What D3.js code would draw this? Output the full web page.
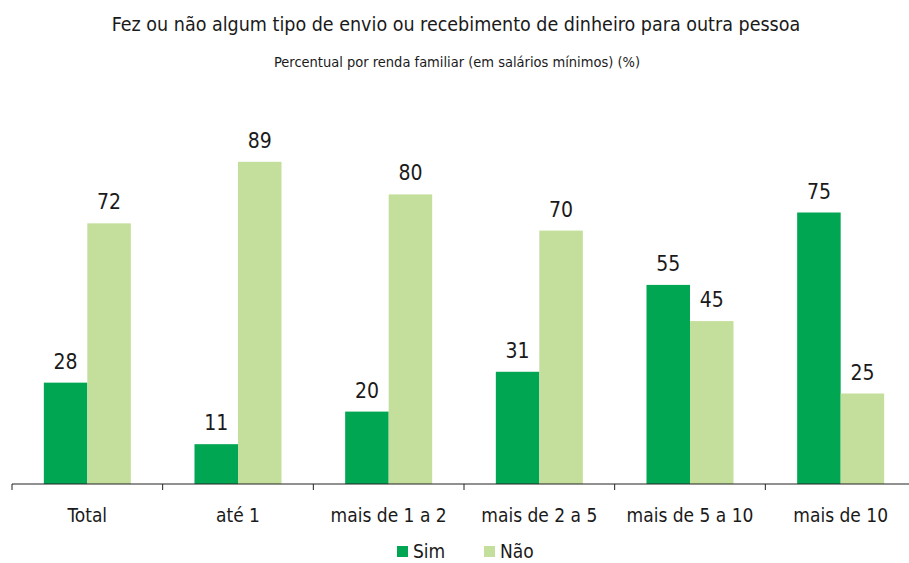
<!DOCTYPE html>
<html>
<head>
<meta charset="utf-8">
<script src="https://cdn.jsdelivr.net/npm/d3@7"></script>
<style>
  body { margin: 0; background: #fff; }
  svg text { font-family: "Liberation Sans Narrow", "DejaVu Sans Condensed", "Liberation Sans", sans-serif; fill: #1a1a1a; }
</style>
</head>
<body>
<div id="chart"></div>
<script>
// Chart data
const categories = ['Total', 'até 1', 'mais de 1 a 2', 'mais de 2 a 5', 'mais de 5 a 10', 'mais de 10'];
const seriesNames = ['Sim', 'Não'];
const simValues = [28, 11, 20, 31, 55, 75];
const naoValues = [72, 89, 80, 70, 45, 25];
const colours = ['#00a651', '#c4df9b'];

const width = 909, height = 563;
const baseline = 484;

const svg = d3.select('#chart')
    .append('svg')
    .attr('width', width)
    .attr('height', height);

// Scales
const x = d3.scaleBand()
    .domain(categories)
    .range([12, 916]);

const inner = d3.scaleBand()
    .domain(seriesNames)
    .range([0, 87])
    .padding(0);

const y = d3.scaleLinear()
    .domain([0, 100])
    .range([baseline, 122]);

const rows = categories.map((c, i) => ({ category: c, values: [simValues[i], naoValues[i]] }));

// Bars
const groups = svg.selectAll('g.group')
    .data(rows)
    .enter()
    .append('g')
    .attr('class', 'group')
    .attr('transform', d => `translate(${x(d.category) + (x.bandwidth() - 87) / 2},0)`);

groups.selectAll('rect')
    .data(d => d.values.map((v, j) => ({ name: seriesNames[j], value: v, j })))
    .enter()
    .append('rect')
    .attr('x', d => inner(d.name))
    .attr('y', d => y(d.value))
    .attr('width', inner.bandwidth())
    .attr('height', d => baseline - y(d.value))
    .attr('fill', d => colours[d.j]);

// Value labels
groups.selectAll('text')
    .data(d => d.values.map((v, j) => ({ name: seriesNames[j], value: v })))
    .enter()
    .append('text')
    .attr('x', d => inner(d.name) + inner.bandwidth() / 2)
    .attr('y', d => y(d.value) - 14)
    .attr('text-anchor', 'middle')
    .style('font-size', '21px')
    .text(d => d.value);

// X axis with ticks between groups
const axis = svg.append('g');
axis.append('line')
    .attr('x1', 12).attr('x2', 916)
    .attr('y1', baseline).attr('y2', baseline)
    .attr('stroke', '#222').attr('stroke-width', 1);

const tickPos = categories.map(c => x(c));
axis.selectAll('line.tick')
    .data(tickPos)
    .enter()
    .append('line')
    .attr('class', 'tick')
    .attr('x1', d => d).attr('x2', d => d)
    .attr('y1', baseline).attr('y2', baseline + 6)
    .attr('stroke', '#222');

axis.selectAll('text')
    .data(categories)
    .enter()
    .append('text')
    .attr('x', d => x(d) + x.bandwidth() / 2)
    .attr('y', 522)
    .attr('text-anchor', 'middle')
    .style('font-size', '19px')
    .text(d => d);

// Titles
svg.append('text')
    .attr('x', 456).attr('y', 31)
    .attr('text-anchor', 'middle')
    .style('font-size', '19.5px')
    .text('Fez ou não algum tipo de envio ou recebimento de dinheiro para outra pessoa');

svg.append('text')
    .attr('x', 457).attr('y', 67)
    .attr('text-anchor', 'middle')
    .style('font-size', '14.5px')
    .text('Percentual por renda familiar (em salários mínimos) (%)');

// Legend
const legend = svg.append('g');
const legendX = [397, 484];
seriesNames.forEach((name, i) => {
    legend.append('rect')
        .attr('x', legendX[i]).attr('y', 546)
        .attr('width', 11).attr('height', 11)
        .attr('fill', colours[i]);
    legend.append('text')
        .attr('x', legendX[i] + 16).attr('y', 558)
        .style('font-size', '19px')
        .text(name);
});
</script>
</body>
</html>
